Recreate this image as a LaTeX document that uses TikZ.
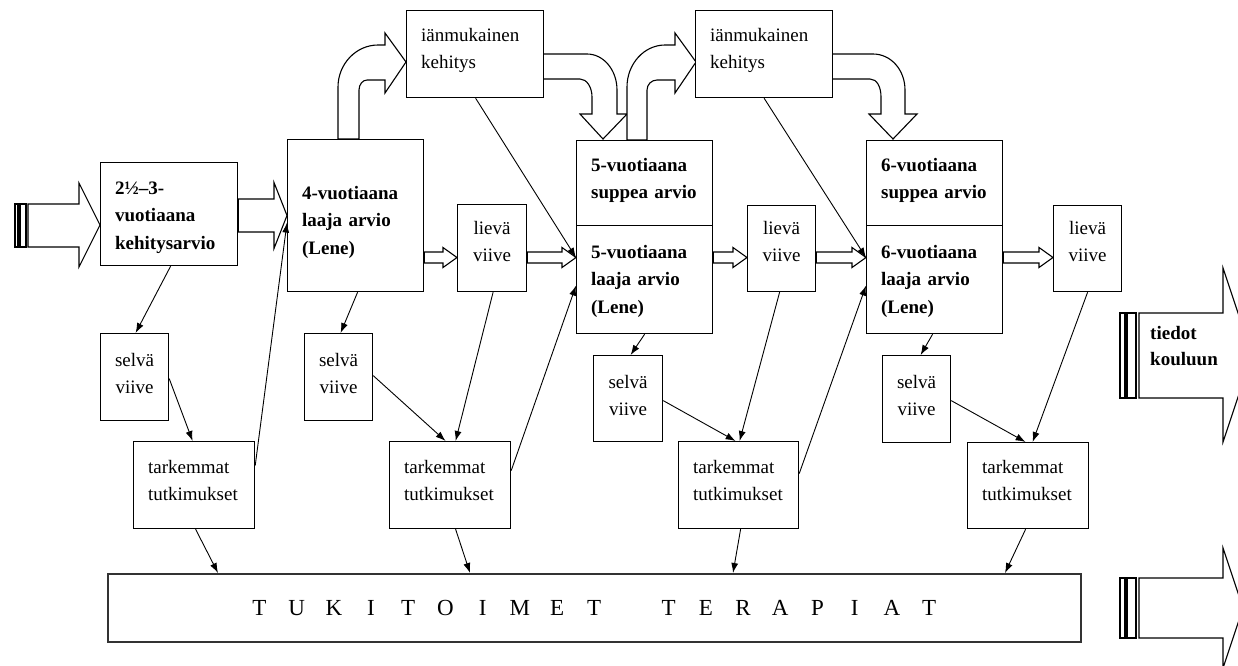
\documentclass[tikz,border=0pt]{standalone}
\usepackage{fontspec}
\setmainfont{Liberation Serif}
\usetikzlibrary{arrows.meta,calc}
\tikzset{
  box/.style={draw, line width=1.2pt, fill=white, anchor=north west, inner xsep=14.5pt, inner ysep=2pt, align=left, font=\fontsize{19}{27.5}\selectfont},
  bbox/.style={box, font=\fontsize{19}{27.5}\selectfont\bfseries},
  cbox/.style={box, align=center, inner xsep=4pt},
  tb/.style={text height=0pt, text depth=#1},
  blk/.style={draw, line width=1.1pt, fill=white, line join=miter},
  con/.style={-{Latex[length=10pt,width=7pt]}, line width=0.9pt}
}
\newcommand\hollowarrow[6]{%
  \draw[blk] let \p1=(#1.east), \p2=(#2.west) in
    (\x1,#3-#4) -- (\x2-#6,#3-#4) -- (\x2-#6,#3-#5) -- (\x2,#3) --
    (\x2-#6,#3+#5) -- (\x2-#6,#3+#4) -- (\x1,#3+#4) -- cycle;}
\newcommand\lb[1]{\makebox[37.2pt]{#1}}
\begin{document}
\begin{tikzpicture}[x=1pt,y=-1pt]
\useasboundingbox (0,0) rectangle (1238,665);
\clip (0,0) rectangle (1238,665);

% curved block arrows
\draw[blk] (338,139) -- (338,87) .. controls (338,64) and (356,45) .. (378,45) -- (385,45) -- (385,33) -- (406,62) -- (385,93) -- (385,80) -- (367,80) .. controls (362.6,80) and (359,84.5) .. (359,90) -- (359,139) -- cycle;
\draw[blk] (543,54) -- (587,54) .. controls (603.6,54) and (617,70) .. (617,90) -- (617,114) -- (627,114) -- (603,139) -- (580,114) -- (592,114) -- (592,97) .. controls (592,87) and (586.6,79) .. (580,79) -- (543,79) -- cycle;
\draw[blk] (627,140) -- (627,87) .. controls (627,64) and (644,45) .. (665,45) -- (675,45) -- (675,33) -- (696,62) -- (675,93) -- (675,80) -- (657,80) .. controls (651.5,80) and (647,84.5) .. (647,90) -- (647,140) -- cycle;
\draw[blk] (832,54) -- (873,54) .. controls (891,54) and (905,70) .. (905,90) -- (905,114) -- (917,114) -- (893,139) -- (869,114) -- (881,114) -- (881,97) .. controls (881,87) and (877,79) .. (870,79) -- (832,79) -- cycle;

% input arrow (left)
\draw[blk] (15,204) rectangle (18,247);
\draw[blk] (20,204) rectangle (26,247);
\draw[blk] (28,204) -- (79,204) -- (79,183) -- (100,225) -- (79,267) -- (79,247) -- (28,247) -- cycle;

% right output arrows
\draw[blk] (1120,313) rectangle (1125,398);
\draw[blk] (1127,313) rectangle (1136,398);
\draw[blk] (1139,313) -- (1223,313) -- (1223,268) -- (1252,355) -- (1223,442) -- (1223,398) -- (1139,398) -- cycle;
\draw[blk] (1120,578) rectangle (1125,638);
\draw[blk] (1127,578) rectangle (1136,638);
\draw[blk] (1139,578) -- (1223,578) -- (1223,548) -- (1243,608) -- (1223,668) -- (1223,638) -- (1139,638) -- cycle;
\node[font=\fontsize{19}{26}\selectfont\bfseries, align=left, anchor=west, inner sep=0pt] (tiedot) at (1150,346) {tiedot\\kouluun};

% boxes
\node[bbox, tb=40pt, minimum width=137pt, minimum height=103pt, text width=108pt] (A) at (100,162) {2½–3-\\vuotiaana\\kehitysarvio};
\node[bbox, tb=33pt, minimum width=136pt, minimum height=152pt, text width=107pt] (B) at (287,139) {4-vuotiaana\\laaja arvio\\(Lene)};
\node[box, tb=26pt, minimum width=137pt, minimum height=87pt, text width=108pt] (C1) at (406,10) {iänmukainen\\kehitys};
\node[box, tb=26pt, minimum width=137pt, minimum height=87pt, text width=108pt] (C2) at (695,10) {iänmukainen\\kehitys};
\node[bbox, tb=24pt, minimum width=136pt, minimum height=85pt, text width=107pt] (Dt) at (576,140) {5-vuotiaana\\suppea arvio};
\node[bbox, tb=43pt, minimum width=136pt, minimum height=108pt, text width=107pt] (Db) at (576,225) {5-vuotiaana\\laaja arvio\\(Lene)};
\node[bbox, tb=24pt, minimum width=136pt, minimum height=85pt, text width=107pt] (Et) at (866,140) {6-vuotiaana\\suppea arvio};
\node[bbox, tb=43pt, minimum width=136pt, minimum height=108pt, text width=107pt] (Eb) at (866,225) {6-vuotiaana\\laaja arvio\\(Lene)};

\node[cbox, tb=28pt, minimum width=69pt, minimum height=87pt, text width=61pt] (L1) at (457,204) {lievä\\viive};
\node[cbox, tb=29pt, minimum width=68pt, minimum height=86pt, text width=60pt] (L2) at (747,205) {lievä\\viive};
\node[cbox, tb=29pt, minimum width=68pt, minimum height=86pt, text width=60pt] (L3) at (1053,205) {lievä\\viive};

\node[cbox, tb=22pt, minimum width=68pt, minimum height=87pt, text width=60pt] (S1) at (100,333) {selvä\\viive};
\node[cbox, tb=22pt, minimum width=68pt, minimum height=87pt, text width=60pt] (S2) at (304,333) {selvä\\viive};
\node[cbox, tb=21pt, minimum width=69pt, minimum height=86pt, text width=61pt] (S3) at (593,355) {selvä\\viive};
\node[cbox, tb=22pt, minimum width=68pt, minimum height=87pt, text width=60pt] (S4) at (882,355) {selvä\\viive};

\node[box, tb=24pt, minimum width=121pt, minimum height=87pt, text width=92pt] (T1) at (133,441) {tarkemmat\\tutkimukset};
\node[box, tb=24pt, minimum width=121pt, minimum height=87pt, text width=92pt] (T2) at (389,441) {tarkemmat\\tutkimukset};
\node[box, tb=24pt, minimum width=120pt, minimum height=87pt, text width=91pt] (T3) at (678,441) {tarkemmat\\tutkimukset};
\node[box, tb=25pt, minimum width=121pt, minimum height=86pt, text width=92pt] (T4) at (967,442) {tarkemmat\\tutkimukset};

\node[box, line width=1.5pt, draw=black!80, align=center, inner xsep=0pt, minimum width=973pt, minimum height=68pt, font=\fontsize{23}{26}\selectfont] (TUK) at (107,573)
  {\lb{T}\lb{U}\lb{K}\lb{I}\lb{T}\lb{O}\lb{I}\lb{M}\lb{E}\lb{T}\lb{}\lb{T}\lb{E}\lb{R}\lb{A}\lb{P}\lb{I}\lb{A}\lb{T}};

% straight hollow arrows
\hollowarrow{A}{B}{215.5}{16.5}{33}{13}
\hollowarrow{B}{L1}{257.5}{5.5}{10}{14}
\hollowarrow{L1}{Db}{257.5}{5.5}{10}{14}
\hollowarrow{Db}{L2}{257.5}{5.5}{10}{14}
\hollowarrow{L2}{Eb}{257.5}{5.5}{10}{14}
\hollowarrow{Eb}{L3}{257.5}{5.5}{10}{14}

% connectors
\draw[con] ([shift={(1.5,0)}]A.south) -- ([shift={(1,0)}]S1.north);
\draw[con] ([shift={(0,1.5)}]S1.east) -- ([shift={(-1.5,0)}]T1.north);
\draw[con] ([shift={(0,-19.5)}]T1.east) -- ([shift={(0,7)}]B.west);
\draw[con] ([shift={(1.5,0)}]T1.south) -- ([shift={(111,0)}]TUK.north west);
\draw[con] ([shift={(2,0)}]B.south) -- ([shift={(2,0)}]S2.north);
\draw[con] ([shift={(0,-1.5)}]S2.east) -- ([shift={(-4.5,0)}]T2.north);
\draw[con] ([shift={(1,0)}]L1.south) -- ([shift={(5.5,0)}]T2.north);
\draw[con] ([shift={(0,-14.5)}]T2.east) -- ([shift={(0,6)}]Db.west);
\draw[con] ([shift={(5.5,0)}]T2.south) -- ([shift={(363,0)}]TUK.north west);
\draw[con] ([shift={(0.5,0)}]C1.south) -- ([shift={(0,-22)}]Db.west);
\draw[con] (Db.south) -- ([shift={(2.5,0)}]S3.north);
\draw[con] ([shift={(0,2)}]S3.east) -- ([shift={(-3,0)}]T3.north);
\draw[con] ([shift={(-2,0)}]L2.south) -- ([shift={(1,0)}]T3.north);
\draw[con] ([shift={(0,-11.5)}]T3.east) -- ([shift={(0,6)}]Eb.west);
\draw[con] ([shift={(2,0)}]T3.south) -- ([shift={(626,0)}]TUK.north west);
\draw[con] (C2.south) -- ([shift={(0,-22)}]Eb.west);
\draw[con] ([shift={(-2,0)}]Eb.south) -- ([shift={(4,0)}]S4.north);
\draw[con] ([shift={(0,1.5)}]S4.east) -- ([shift={(-2.5,0)}]T4.north);
\draw[con] (L3.south) -- ([shift={(4.5,0)}]T4.north);
\draw[con] ([shift={(-2.5,0)}]T4.south) -- ([shift={(898,0)}]TUK.north west);
\end{tikzpicture}
\end{document}
